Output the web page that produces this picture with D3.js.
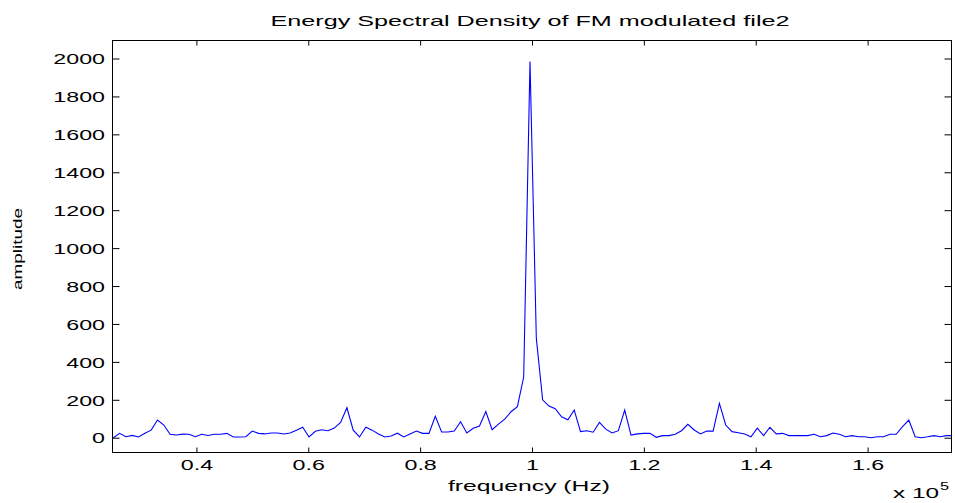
<!DOCTYPE html>
<html>
<head>
<meta charset="utf-8">
<script src="https://cdn.jsdelivr.net/npm/d3@7"></script>
<style>
  html, body { margin: 0; padding: 0; background: #fff; }
  svg { display: block; }
  text { font-family: "Liberation Sans", Arial, Helvetica, sans-serif; fill: #000; }
</style>
</head>
<body>
<svg id="chart" width="955" height="503"></svg>
<script>
// ---- data ----
const titleText = "Energy Spectral Density of FM modulated file2";
const xLabelText = "frequency (Hz)";
const yLabelText = "amplitude";
// FFT bin grid (Hz)
const freqStart = 25143;
const freqStep = 1128.8;
// amplitude per bin
const amplitude = [
  0, 23, 5, 12, 4, 23, 40, 93, 67, 18,
  14, 19, 18, 5, 18, 12, 18, 18, 23, 4,
  4, 5, 35, 23, 20, 25, 25, 20, 25, 39,
  55, 4, 34, 42, 37, 51, 81, 158, 40, 4,
  55, 40, 20, 4, 9, 24, 4, 20, 35, 23,
  23, 113, 30, 30, 35, 84, 25, 50, 62, 138,
  42, 72, 98, 137, 164, 320, 1984, 525, 200, 167,
  153, 110, 95, 146, 32, 37, 29, 81, 45, 25,
  37, 146, 14, 20, 23, 23, 2, 11, 11, 18,
  37, 71, 41, 20, 35, 35, 181, 67, 32, 26,
  20, 5, 50, 11, 55, 20, 23, 11, 11, 11,
  11, 18, 5, 11, 25, 18, 5, 11, 5, 5,
  0, 5, 5, 18, 18, 58, 93, 5, 0, 5,
  11, 5, 11, 11
];
const xTickValues = [40000, 60000, 80000, 100000, 120000, 140000, 160000];
const xTickLabels = ["0.4", "0.6", "0.8", "1", "1.2", "1.4", "1.6"];
const yTickValues = [0, 200, 400, 600, 800, 1000, 1200, 1400, 1600, 1800, 2000];
const yTickLabels = ["0", "200", "400", "600", "800", "1000", "1200", "1400", "1600", "1800", "2000"];
const xDomain = [25000, 175000];
const yDomain = [-78, 2095];
const exponentBase = "x 10";
const exponentPow = "5";

// ---- layout ----
const L = 112.5, R = 951.5, T = 40.5, B = 452.5;
const STRETCH = 1.55;

const svg = d3.select("#chart");
const x = d3.scaleLinear().domain(xDomain).range([L, R]);
const y = d3.scaleLinear().domain(yDomain).range([B, T]);

const points = amplitude.map((v, i) => ({ f: freqStart + i * freqStep, v }));

function stretch(sel, k) {
  sel.each(function () {
    const len = this.getComputedTextLength();
    d3.select(this).attr("textLength", len * k).attr("lengthAdjust", "spacingAndGlyphs");
  });
}
function fitTo(sel, w) {
  sel.attr("textLength", w).attr("lengthAdjust", "spacingAndGlyphs");
}

// clip
svg.append("defs").append("clipPath").attr("id", "plotclip")
  .append("rect").attr("x", L).attr("y", T).attr("width", R - L).attr("height", B - T);

// line
const line = d3.line().x(d => x(d.f)).y(d => y(d.v));
svg.append("path")
  .datum(points)
  .attr("clip-path", "url(#plotclip)")
  .attr("fill", "none")
  .attr("stroke", "#0000ff")
  .attr("stroke-width", 1.1)
  .attr("d", line);

// axes
const fontSize = 15;
const gB = svg.append("g").attr("transform", `translate(0,${B})`)
  .call(d3.axisBottom(x).tickValues(xTickValues).tickFormat((d, i) => xTickLabels[i])
    .tickSizeInner(-5).tickSizeOuter(0).tickPadding(7));
const gT = svg.append("g").attr("transform", `translate(0,${T})`)
  .call(d3.axisTop(x).tickValues(xTickValues).tickFormat("")
    .tickSizeInner(-5).tickSizeOuter(0));
const gL = svg.append("g").attr("transform", `translate(${L},0)`)
  .call(d3.axisLeft(y).tickValues(yTickValues).tickFormat((d, i) => yTickLabels[i])
    .tickSizeInner(-7).tickSizeOuter(0).tickPadding(7.5));
const gR = svg.append("g").attr("transform", `translate(${R},0)`)
  .call(d3.axisRight(y).tickValues(yTickValues).tickFormat("")
    .tickSizeInner(-7).tickSizeOuter(0));

[gB, gT, gL, gR].forEach(g => {
  g.select(".domain").remove();
  g.selectAll(".tick line").attr("stroke", "#000").attr("stroke-width", 1);
  g.selectAll("text").attr("font-family", null).attr("font-size", fontSize).attr("fill", "#000");
});
gL.selectAll(".tick text").attr("dy", "0.35em");
stretch(gB.selectAll(".tick text"), STRETCH);
stretch(gL.selectAll(".tick text"), STRETCH);

// frame
svg.append("rect")
  .attr("x", L).attr("y", T).attr("width", R - L).attr("height", B - T)
  .attr("fill", "none").attr("stroke", "#000").attr("stroke-width", 1);

// title
const title = svg.append("text")
  .attr("x", 530).attr("y", 26).attr("text-anchor", "middle")
  .attr("font-size", 15).text(titleText);
fitTo(title, 519);

// x label
const xl = svg.append("text")
  .attr("x", 529).attr("y", 491).attr("text-anchor", "middle")
  .attr("font-size", 15).text(xLabelText);
fitTo(xl, 162);

// y label
const yl = svg.append("text")
  .attr("transform", "translate(21.5,249) rotate(-90)")
  .attr("text-anchor", "middle")
  .attr("font-size", 12).text(yLabelText);
fitTo(yl, 82);

// exponent
const ex = svg.append("text")
  .attr("x", 893).attr("y", 498).attr("font-size", 15).text(exponentBase);
fitTo(ex, 46);
const ep = svg.append("text")
  .attr("x", 940).attr("y", 490).attr("font-size", 10.5).text(exponentPow);
stretch(ep, STRETCH);
</script>
</body>
</html>
